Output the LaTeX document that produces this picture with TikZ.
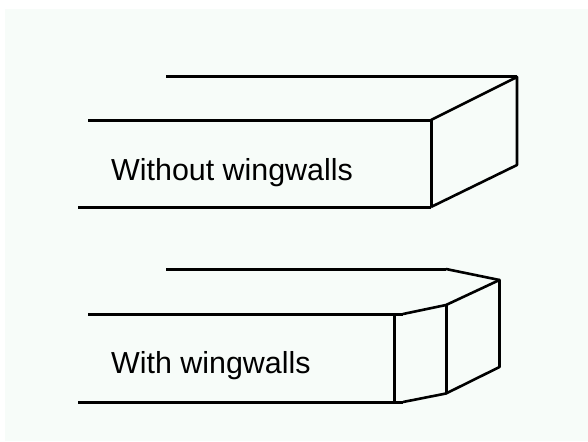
\documentclass[tikz,border=0pt]{standalone}
\usepackage{fontspec}
\setmainfont{Liberation Sans}
\definecolor{bgtint}{HTML}{F7FCF9}
\tikzset{
  wall/.style={draw=black,line width=3pt,line join=round,line cap=butt},
  edge/.style={draw=black,line width=2.6pt,line join=round,line cap=butt},
  caption/.style={anchor=base west,inner sep=0pt,font=\fontsize{30.4}{36}\selectfont,text=black}
}
\begin{document}
\begin{tikzpicture}[x=1pt,y=-1pt]
\useasboundingbox (0,0) rectangle (588,441);
\fill[bgtint] (5,9) rectangle (588,441);
% upper block: without wingwalls
\coordinate (a1) at (166,77);
\coordinate (a2) at (517,77);
\coordinate (a3) at (88,120);
\coordinate (a4) at (431,120);
\coordinate (a5) at (78,207);
\coordinate (a6) at (431,207);
\coordinate (a7) at (517,165);
\draw[wall] (a1) -- (a2);
\draw[wall] (a3) -- (a4);
\draw[wall] (a5) -- (a6);
\draw[wall] (a4) -- (a6);
\draw[edge] (a4) -- (a2) -- (a7) -- (a6);
\node[caption] (lab1) at (111,180) {Without wingwalls};
% lower block: with wingwalls
\coordinate (b1) at (166,269);
\coordinate (b2) at (446,269);
\coordinate (b3) at (499.5,280);
\coordinate (b4) at (88,314);
\coordinate (b5) at (403,314);
\coordinate (b6) at (446,305);
\coordinate (b7) at (78,402);
\coordinate (b8) at (403,402);
\coordinate (b9) at (446,393.5);
\coordinate (b10) at (499.5,367);
\coordinate (c1) at (394,314);
\coordinate (c2) at (394,402);
\draw[wall] (b1) -- (b2);
\draw[edge] (b2) -- (b3);
\draw[wall] (b4) -- (b5);
\draw[edge] (b5) -- (b6) -- (b3) -- (b10) -- (b9) -- (b8);
\draw[wall] (b8) -- (b7);
\draw[wall] (b6) -- (b9);
\draw[wall] (c1) -- (c2);
\node[caption] (lab2) at (111,373) {With wingwalls};
\end{tikzpicture}
\end{document}
